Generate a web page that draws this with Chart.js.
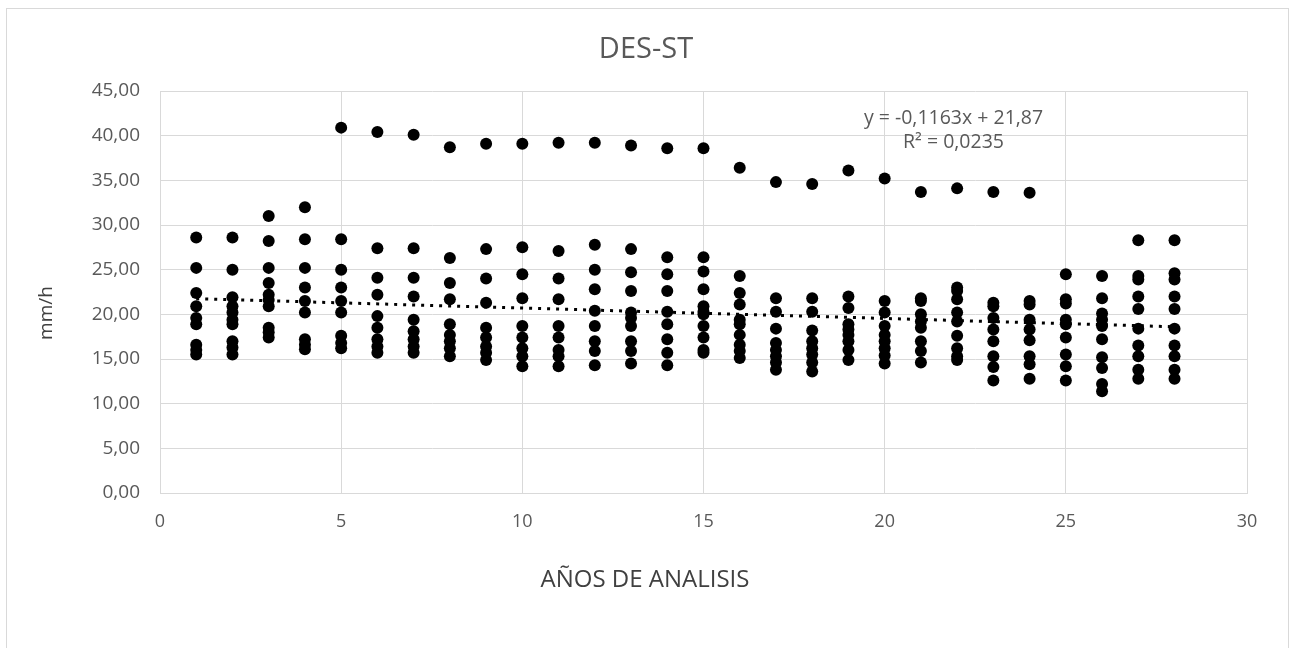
<!DOCTYPE html>
<html lang="es">
<head>
    <meta charset="UTF-8">
    <script src="https://cdn.jsdelivr.net/npm/chart.js"></script>
    <title>DES-ST</title>
    <style>
        body { margin: 0; background: #fff; }
        #wrap { width: 1294px; height: 648px; }
    </style>
</head>
<body>
    <div id="wrap"><canvas id="chart" width="1294" height="648"></canvas></div>
    <script>
        // años de analisis
        const years = [1, 2, 3, 4, 5, 6, 7, 8, 9, 10, 11, 12, 13, 14, 15, 16, 17, 18, 19, 20, 21, 22, 23, 24, 25, 26, 27, 28]

        // mm/h values read for each year (same order as years)
        const valuesByYear = [
            [28.6, 25.2, 22.4, 20.9, 19.6, 18.9, 16.6, 16.0, 15.5],
            [28.6, 25.0, 21.9, 20.9, 20.2, 19.4, 18.9, 17.0, 16.3, 15.5],
            [31.0, 28.2, 25.2, 23.5, 22.2, 21.6, 20.9, 18.5, 18.0, 17.4],
            [32.0, 28.4, 25.2, 23.0, 21.5, 20.2, 17.2, 16.6, 16.1],
            [40.9, 28.4, 25.0, 23.0, 21.5, 20.2, 17.6, 16.8, 16.2],
            [40.4, 27.4, 24.1, 22.2, 19.8, 18.5, 17.2, 16.4, 15.7],
            [40.1, 27.4, 24.1, 22.0, 19.4, 18.1, 17.2, 16.4, 15.7],
            [38.7, 26.3, 23.5, 21.7, 18.9, 17.7, 17.0, 16.2, 15.3],
            [39.1, 27.3, 24.0, 21.3, 18.5, 17.4, 16.4, 15.7, 14.9],
            [39.1, 27.5, 24.5, 21.8, 18.7, 17.4, 16.2, 15.3, 14.2],
            [39.2, 27.1, 24.0, 21.7, 18.7, 17.4, 16.0, 15.3, 14.2],
            [39.2, 27.8, 25.0, 22.8, 20.4, 18.7, 17.0, 15.9, 14.3],
            [38.9, 27.3, 24.7, 22.6, 20.2, 19.6, 18.7, 17.0, 15.9, 14.5],
            [38.6, 26.4, 24.5, 22.6, 20.3, 18.9, 17.2, 15.7, 14.3],
            [38.6, 26.4, 24.8, 22.8, 20.9, 20.3, 20.0, 18.7, 17.4, 16.0, 15.7],
            [36.4, 24.3, 22.4, 21.1, 19.4, 18.9, 17.7, 16.6, 15.9, 15.1],
            [34.8, 21.8, 20.3, 18.4, 16.8, 16.0, 15.3, 14.6, 13.8],
            [34.6, 21.8, 20.3, 18.2, 17.0, 16.2, 15.5, 14.6, 13.6],
            [36.1, 22.0, 20.7, 18.9, 18.3, 17.7, 17.0, 16.0, 14.9],
            [35.2, 21.5, 20.2, 18.7, 17.7, 17.0, 16.2, 15.4, 14.5],
            [33.7, 21.8, 21.5, 20.0, 19.2, 18.5, 17.0, 15.9, 14.6],
            [34.1, 23.0, 22.6, 21.7, 20.2, 19.2, 17.6, 16.2, 15.3, 14.9],
            [33.7, 21.3, 20.9, 19.6, 18.3, 17.0, 15.3, 14.1, 12.6],
            [33.6, 21.5, 21.1, 19.4, 18.3, 17.1, 15.3, 14.4, 12.8],
            [24.5, 21.7, 21.2, 19.4, 18.9, 17.4, 15.5, 14.2, 12.6],
            [24.3, 21.8, 20.1, 19.4, 18.7, 17.2, 15.2, 14.0, 12.2, 11.4],
            [28.3, 24.3, 23.9, 22.0, 20.6, 18.4, 16.5, 15.3, 13.8, 12.8],
            [28.3, 24.6, 23.9, 22.0, 20.6, 18.4, 16.5, 15.3, 13.8, 12.8]
        ]

        // linear trend (y = -0,1163x + 21,87) end points as drawn
        const trendX = [1, 28]
        const trendY = [21.75, 18.61]
        const trendLabel = ['y = -0,1163x + 21,87', 'R² = 0,0235']

        const chartTitle = 'DES-ST'
        const xTitle = 'AÑOS DE ANALISIS'
        const yTitle = 'mm/h'

        const points = []
        years.forEach((yr, i) => {
            valuesByYear[i].forEach(v => points.push({ x: yr, y: v }))
        })
        const trend = trendX.map((x, i) => ({ x, y: trendY[i] }))

        const font = "'Open Sans', sans-serif"
        const grey = '#595959'

        // background, frame, titles (centred on the whole chart, like Excel) and the trend label
        const frame = {
            id: 'frame',
            beforeDraw: (chart) => {
                const ctx = chart.ctx
                ctx.save()
                ctx.fillStyle = '#ffffff'
                ctx.fillRect(0, 0, chart.width, chart.height)
                ctx.strokeStyle = '#d9d9d9'
                ctx.lineWidth = 1
                ctx.strokeRect(6.5, 8.5, 1282, 660)
                ctx.restore()
            },
            afterDraw: (chart) => {
                const ctx = chart.ctx
                const xs = chart.scales.x
                const ys = chart.scales.y
                ctx.save()
                ctx.textAlign = 'center'
                ctx.textBaseline = 'middle'

                ctx.fillStyle = grey
                ctx.font = '29px ' + font
                ctx.fillText(chartTitle, 646, 50)

                ctx.font = '19.5px ' + font
                ctx.fillText(trendLabel[0], xs.getPixelForValue(21.9), ys.getPixelForValue(41.9))
                ctx.fillText(trendLabel[1], xs.getPixelForValue(21.9), ys.getPixelForValue(39.2))

                ctx.fillStyle = '#404040'
                ctx.font = '24px ' + font
                ctx.fillText(xTitle, 645, 580)

                ctx.translate(47, 313)
                ctx.rotate(-Math.PI / 2)
                ctx.font = '19px ' + font
                ctx.fillText(yTitle, 0, 0)
                ctx.restore()
            }
        }

        new Chart(document.getElementById('chart'), {
            type: 'scatter',
            data: {
                datasets: [
                    {
                        label: 'DES-ST',
                        data: points,
                        backgroundColor: '#000000',
                        borderWidth: 0,
                        pointRadius: 6,
                        pointHoverRadius: 6
                    },
                    {
                        label: 'Lineal',
                        type: 'line',
                        data: trend,
                        borderColor: '#000000',
                        borderWidth: 3,
                        borderDash: [3, 6],
                        pointRadius: 0,
                        fill: false
                    }
                ]
            },
            options: {
                responsive: false,
                animation: false,
                layout: { padding: { left: 0, right: 47, top: 91, bottom: 0 } },
                plugins: {
                    legend: { display: false },
                    tooltip: { enabled: false },
                    title: { display: false }
                },
                scales: {
                    x: {
                        type: 'linear',
                        min: 0,
                        max: 30,
                        ticks: {
                            stepSize: 5,
                            color: grey,
                            padding: 18,
                            font: { family: font, size: 18 }
                        },
                        grid: { color: '#d9d9d9', drawTicks: false },
                        border: { color: '#d9d9d9' },
                        afterFit: (scale) => { scale.height = 155 }
                    },
                    y: {
                        min: 0,
                        max: 45,
                        ticks: {
                            stepSize: 5,
                            color: grey,
                            padding: 20,
                            font: { family: font, size: 19 },
                            callback: (v) => v.toFixed(2).replace('.', ',')
                        },
                        grid: { color: '#d9d9d9', drawTicks: false },
                        border: { color: '#d9d9d9' },
                        afterFit: (scale) => { scale.width = 160 }
                    }
                }
            },
            plugins: [frame]
        })
    </script>
</body>
</html>
